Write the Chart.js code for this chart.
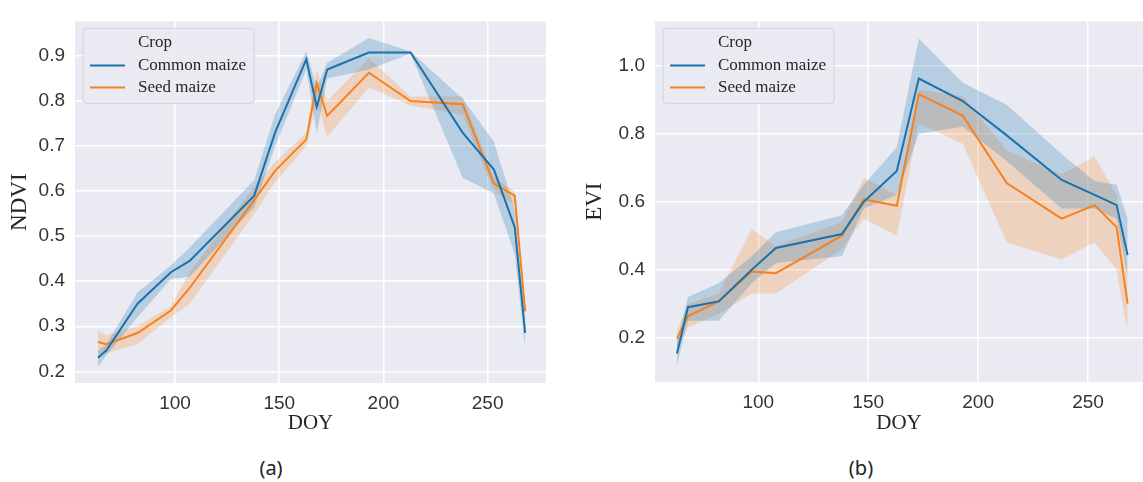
<!DOCTYPE html>
<html>
<head>
<meta charset="utf-8">
<script src="https://cdn.jsdelivr.net/npm/chart.js@4.4.1/dist/chart.umd.min.js"></script>
<style>
    body { margin: 0; background: #ffffff; width: 1143px; height: 482px; position: relative; overflow: hidden; }
    canvas { position: absolute; top: 0; }
    #ndviChart { left: 0; }
    #eviChart { left: 575px; }
    .panel-label { position: absolute; top: 454px; font-family: "Noto Sans", sans-serif; font-size: 20px; color: #222; transform: translateX(-50%); }
</style>
</head>
<body>
<canvas id="ndviChart" width="560" height="436"></canvas>
<canvas id="eviChart" width="568" height="436"></canvas>
<div class="panel-label" style="left:271px">(a)</div>
<div class="panel-label" style="left:861px">(b)</div>
<script>
// (a) NDVI
const ndviDoy = [63, 67, 82, 98, 107, 138, 148, 163, 168, 173, 193, 213, 238, 253, 263, 268];
const ndviCommon = [0.23, 0.246, 0.35, 0.42, 0.445, 0.59, 0.73, 0.893, 0.787, 0.87, 0.908, 0.908, 0.73, 0.648, 0.52, 0.285];
const ndviCommonLow = [0.21, 0.235, 0.32, 0.405, 0.41, 0.565, 0.70, 0.87, 0.73, 0.85, 0.87, 0.905, 0.63, 0.595, 0.46, 0.25];
const ndviCommonHigh = [0.245, 0.26, 0.375, 0.435, 0.475, 0.625, 0.77, 0.91, 0.83, 0.885, 0.94, 0.91, 0.805, 0.71, 0.56, 0.31];
const ndviSeed = [0.265, 0.26, 0.285, 0.335, 0.385, 0.58, 0.645, 0.715, 0.84, 0.767, 0.863, 0.8, 0.793, 0.617, 0.59, 0.333];
const ndviSeedLow = [0.24, 0.24, 0.26, 0.32, 0.35, 0.55, 0.62, 0.70, 0.80, 0.72, 0.83, 0.79, 0.77, 0.60, 0.57, 0.32];
const ndviSeedHigh = [0.29, 0.28, 0.30, 0.345, 0.42, 0.61, 0.665, 0.73, 0.87, 0.80, 0.895, 0.81, 0.81, 0.63, 0.60, 0.345];
const ndviTicks = [0.2, 0.3, 0.4, 0.5, 0.6, 0.7, 0.8, 0.9];

// (b) EVI
const eviDoy = [63, 68, 82, 97, 108, 138, 148, 163, 173, 193, 213, 238, 253, 263, 268];
const eviCommon = [0.154, 0.29, 0.307, 0.40, 0.464, 0.505, 0.60, 0.69, 0.962, 0.896, 0.795, 0.664, 0.62, 0.59, 0.443];
const eviCommonLow = [0.12, 0.25, 0.25, 0.36, 0.42, 0.44, 0.58, 0.62, 0.80, 0.82, 0.72, 0.58, 0.58, 0.55, 0.38];
const eviCommonHigh = [0.19, 0.32, 0.36, 0.44, 0.51, 0.56, 0.65, 0.76, 1.08, 0.95, 0.885, 0.74, 0.66, 0.65, 0.55];
const eviSeed = [0.197, 0.264, 0.307, 0.395, 0.39, 0.50, 0.607, 0.588, 0.916, 0.853, 0.655, 0.55, 0.59, 0.525, 0.30];
const eviSeedLow = [0.17, 0.23, 0.27, 0.33, 0.33, 0.46, 0.55, 0.50, 0.83, 0.77, 0.48, 0.43, 0.48, 0.40, 0.215];
const eviSeedHigh = [0.22, 0.30, 0.33, 0.52, 0.47, 0.54, 0.67, 0.62, 0.93, 0.91, 0.75, 0.68, 0.733, 0.62, 0.40];
const eviTicks = [0.2, 0.4, 0.6, 0.8, 1.0];

const doyTicks = [100, 150, 200, 250];
const cropNames = ["Common maize", "Seed maize"];
const lineColors = ["#1b72aa", "#f7811e"];
const bandColors = ["rgba(31,119,180,0.25)", "rgba(255,127,14,0.22)"];

function puntos(xs, ys) {
    return xs.map((x, i) => ({ x: x, y: ys[i] }));
}

const plotBackground = {
    id: "plotBackground",
    beforeDraw(chart) {
        const { ctx, chartArea } = chart;
        ctx.save();
        ctx.fillStyle = "#eaeaf2";
        ctx.fillRect(chartArea.left, chartArea.top, chartArea.right - chartArea.left, chartArea.bottom - chartArea.top);
        ctx.restore();
    }
};

// leyenda estilo seaborn dentro del área del gráfico
const cropLegend = {
    id: "cropLegend",
    afterDraw(chart) {
        const { ctx, chartArea } = chart;
        const x0 = chartArea.left + 8;
        const y0 = chartArea.top + 7;
        ctx.save();
        ctx.font = "17px 'Liberation Serif', serif";
        const textW = Math.max(...cropNames.map((n) => ctx.measureText(n).width));
        const w = 55 + textW + 8;
        const h = 75;
        ctx.beginPath();
        ctx.roundRect(x0, y0, w, h, 4);
        ctx.fillStyle = "rgba(234,234,242,0.85)";
        ctx.fill();
        ctx.strokeStyle = "#d2d2da";
        ctx.lineWidth = 1;
        ctx.stroke();
        ctx.fillStyle = "#262626";
        ctx.textBaseline = "middle";
        ctx.textAlign = "left";
        ctx.fillText("Crop", x0 + 55, y0 + 14);
        cropNames.forEach((name, i) => {
            const y = y0 + 37 + i * 22;
            ctx.strokeStyle = lineColors[i];
            ctx.lineWidth = 2;
            ctx.beginPath();
            ctx.moveTo(x0 + 7, y);
            ctx.lineTo(x0 + 42, y);
            ctx.stroke();
            ctx.fillText(name, x0 + 55, y);
        });
        ctx.restore();
    }
};

function crearGrafico(id, cfg) {
    const bandas = [
        [cfg.commonHigh, cfg.commonLow],
        [cfg.seedHigh, cfg.seedLow]
    ];
    const datasets = [
        { data: puntos(cfg.doy, cfg.common), borderColor: lineColors[0], borderWidth: 2, order: 0 },
        { data: puntos(cfg.doy, cfg.seed), borderColor: lineColors[1], borderWidth: 2, order: 1 }
    ];
    bandas.forEach((b, i) => {
        datasets.push({ data: puntos(cfg.doy, b[0]), borderWidth: 0, backgroundColor: bandColors[i], fill: "+1", order: 3 + i });
        datasets.push({ data: puntos(cfg.doy, b[1]), borderWidth: 0, backgroundColor: bandColors[i], fill: false, order: 3 + i });
    });
    return new Chart(document.getElementById(id), {
        type: "line",
        plugins: [plotBackground, cropLegend],
        data: { datasets: datasets },
        options: {
            responsive: false,
            animation: false,
            layout: { padding: { top: 16, right: cfg.padRight, left: 0, bottom: 0 } },
            elements: { point: { radius: 0 }, line: { tension: 0 } },
            plugins: { legend: { display: false }, tooltip: { enabled: false } },
            scales: {
                x: {
                    type: "linear",
                    min: cfg.xMin,
                    max: cfg.xMax,
                    afterFit(scale) { scale.height = cfg.xAxisH; },
                    afterBuildTicks(scale) { scale.ticks = doyTicks.map((v) => ({ value: v })); },
                    grid: { color: "#ffffff", lineWidth: 1.5, drawTicks: false },
                    border: { display: false },
                    ticks: { padding: 9, color: "#333333", font: { family: "'Liberation Sans', Arial, sans-serif", size: 19 } },
                    title: { display: true, text: "DOY", color: "#262626", padding: { top: 2, bottom: 0 }, font: { family: "'Liberation Serif', serif", size: 21 } }
                },
                y: {
                    min: cfg.yMin,
                    max: cfg.yMax,
                    afterFit(scale) { scale.width = cfg.yAxisW; },
                    afterBuildTicks(scale) { scale.ticks = cfg.yTicks.map((v) => ({ value: v })); },
                    grid: { color: "#ffffff", lineWidth: 1.5, drawTicks: false },
                    border: { display: false },
                    ticks: { padding: 10, color: "#333333", font: { family: "'Liberation Sans', Arial, sans-serif", size: 19 }, callback: (v) => Number(v).toFixed(1) },
                    title: { display: true, text: cfg.yTitle, color: "#262626", padding: { top: 6, bottom: 0 }, font: { family: "'Liberation Serif', serif", size: 23 } }
                }
            }
        }
    });
}

crearGrafico("ndviChart", {
    doy: ndviDoy, common: ndviCommon, commonLow: ndviCommonLow, commonHigh: ndviCommonHigh,
    seed: ndviSeed, seedLow: ndviSeedLow, seedHigh: ndviSeedHigh,
    yTicks: ndviTicks, yMin: 0.174, yMax: 0.977, xMin: 52, xMax: 278,
    yTitle: "NDVI", yAxisW: 75, xAxisH: 53, padRight: 14
});
crearGrafico("eviChart", {
    doy: eviDoy, common: eviCommon, commonLow: eviCommonLow, commonHigh: eviCommonHigh,
    seed: eviSeed, seedLow: eviSeedLow, seedHigh: eviSeedHigh,
    yTicks: eviTicks, yMin: 0.07, yMax: 1.13, xMin: 53, xMax: 275,
    yTitle: "EVI", yAxisW: 80, xAxisH: 54, padRight: 0
});
</script>
</body>
</html>
